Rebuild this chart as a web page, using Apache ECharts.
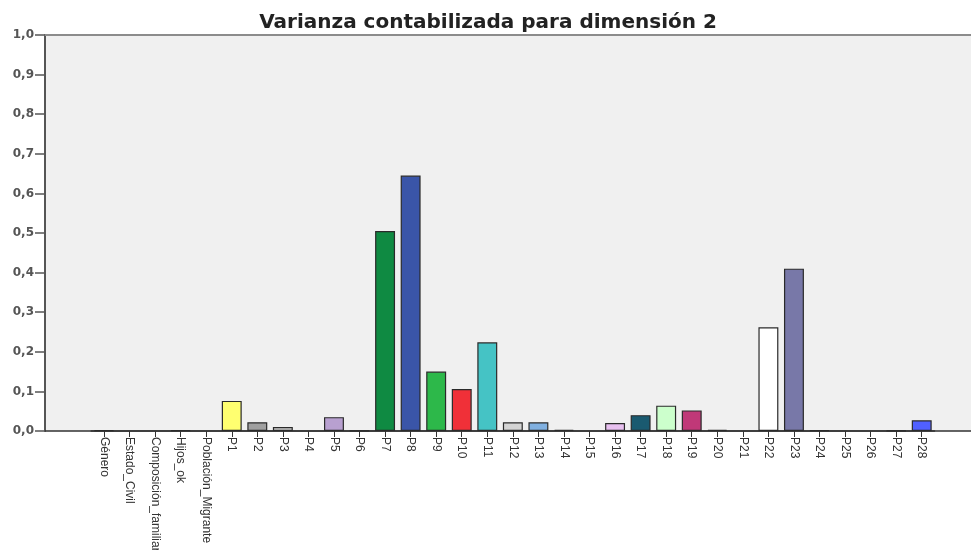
<!DOCTYPE html>
<html>
<head>
<meta charset="utf-8">
<script src="https://cdn.jsdelivr.net/npm/echarts@6/dist/echarts.min.js"></script>
<style>
html,body{margin:0;padding:0;background:#fff;}
#chart{width:971px;height:550px;}
</style>
</head>
<body>
<div id="chart"></div>
<script>
var titleText = 'Varianza contabilizada para dimensión 2';
var categories = ['Género','Estado_Civil','Composición_familiar','Hijos_ok','Población_Migrante',
  'P1','P2','P3','P4','P5','P6','P7','P8','P9','P10','P11','P12','P13','P14','P15','P16','P17','P18','P19','P20','P21','P22','P23','P24','P25','P26','P27','P28'];
var values = [0.002,0,0,0.002,0,
  0.076,0.022,0.010,0,0.035,0.001,0.505,0.645,0.150,0.106,0.224,0.022,0.022,0.003,0,0.020,0.040,0.064,0.052,0.003,0,0.262,0.410,0.002,0,0,0.001,0.027];
var barColors = ['#333','#333','#333','#333','#333',
  '#ffff70','#a0a0a0','#d0d0d0','#333','#b8a0d0','#333','#0f8a42','#3a55a8','#2db84a','#f03038','#45c3c5','#d4d4d4','#80b0e0','#333','#333','#e8c0f0','#1a5a70','#ccffcc','#c03878','#333','#333','#ffffff','#7878a8','#333','#333','#333','#333','#5060ff'];
var yTickStep = 0.1;

var chart = echarts.init(document.getElementById('chart'), null, {renderer:'canvas'});
var labelFont = '"Liberation Sans Narrow","Arial Narrow","Liberation Sans",sans-serif';
chart.setOption({
  animation:false,
  backgroundColor:'#fff',
  title:{
    text:titleText, left:483, textAlign:'center', top:8,
    textStyle:{fontFamily:'"DejaVu Sans",sans-serif', fontWeight:'bold', fontSize:20, color:'#222'}
  },
  grid:[
    {left:45, top:35, right:0, bottom:119, show:true, backgroundColor:'#f0f0f0', borderWidth:0, containLabel:false, outerBoundsMode:'none'},
    {left:91.2, top:35, right:36.5, bottom:119, show:false, containLabel:false, outerBoundsMode:'none'}
  ],
  xAxis:[
    {type:'value', gridIndex:0, min:0, max:1, position:'bottom',
     axisLine:{show:true, lineStyle:{color:'#333', width:1.5}}, axisTick:{show:false}, axisLabel:{show:false}, splitLine:{show:false}},
    {type:'value', gridIndex:0, min:0, max:1, position:'top',
     axisLine:{show:true, lineStyle:{color:'#8c8c8c', width:2}}, axisTick:{show:false}, axisLabel:{show:false}, splitLine:{show:false}},
    {type:'category', gridIndex:1, data:categories, position:'bottom',
     axisLine:{show:true, lineStyle:{color:'#333', width:1.5}},
     axisTick:{show:true, alignWithLabel:true, length:6, lineStyle:{color:'#333'}},
     axisLabel:{rotate:-90, interval:0, margin:6, fontFamily:labelFont, fontSize:12, color:'#333'}}
  ],
  yAxis:[
    {type:'value', gridIndex:0, min:0, max:1, interval:yTickStep,
     axisLine:{show:true, lineStyle:{color:'#555', width:2}},
     axisTick:{show:true, length:10, lineStyle:{color:'#555', width:1.5}},
     axisLabel:{margin:11, fontFamily:'"DejaVu Sans",sans-serif', fontWeight:'bold', fontSize:12, color:'#555',
       formatter:function(v){return v.toFixed(1).replace('.',',');}},
     splitLine:{show:false}},
    {type:'value', gridIndex:1, min:0, max:1, show:false}
  ],
  series:[{
    type:'bar', xAxisIndex:2, yAxisIndex:1,
    barCategoryGap:'22%',
    data:values.map(function(v,i){return {value:v, itemStyle:{color:barColors[i], borderWidth:(v===0?0:1.2)}};}),
    itemStyle:{borderColor:'#2a2a2a', borderWidth:1.2}
  }]
});
</script>
</body>
</html>
